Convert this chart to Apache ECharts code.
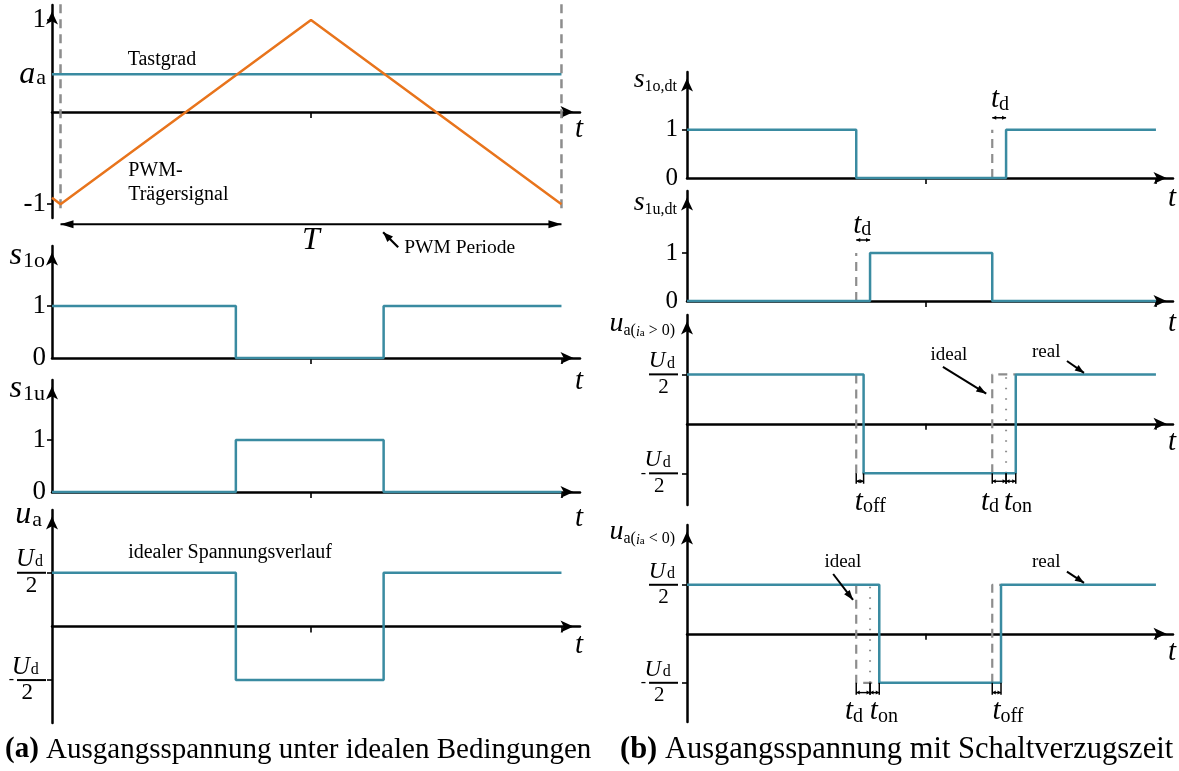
<!DOCTYPE html>
<html><head><meta charset="utf-8">
<script src="https://cdn.jsdelivr.net/npm/echarts@6/dist/echarts.min.js"></script>
<style>html,body{margin:0;padding:0;background:#fff}#c{width:1179px;height:771px}</style>
</head><body><div id="c"></div>
<script>
// ================= DATA =================
const T_START = -0.017, T_END = 1.037;          // time axis range (unit: PWM period T)
const periodTicks = [0.5, 1];
// (a) ideal conditions
const carrierT = [-0.017, 0, 0.5, 1];
const carrierV = [-0.93, -1, 1, -1];
const dutyT = [-0.017, 1];
const dutyV = [0.41, 0.41];
const periodLine1T = [0, 0], periodLine2T = [1, 1];
const periodLineV = [1.17, -1.1];
const idealT = [-0.017, 0.35, 0.35, 0.645, 0.645, 1];
const s1oV = [1, 1, 0, 0, 1, 1];
const s1uV = [0, 0, 1, 1, 0, 0];
const uaV  = [1, 1, -1, -1, 1, 1];
// (b) with dead time
const s1oDtT = [-0.017, 0.35, 0.35, 0.675, 0.675, 1];
const s1oDtV = [1, 1, 0, 0, 1, 1];
const s1oDtIdealT = [0.645, 0.645], s1DtIdealV = [0, 1];
const s1uDtT = [-0.017, 0.38, 0.38, 0.645, 0.645, 1];
const s1uDtV = [0, 0, 1, 1, 0, 0];
const s1uDtIdealT = [0.35, 0.35];
const uPosRealT = [-0.017, 0.366, 0.366, 0.696, 0.696, 1];
const uNegRealT = [-0.017, 0.40, 0.40, 0.664, 0.664, 1];
const uRealV = [1, 1, -1, -1, 1, 1];
const uPosIdealT = [0.35, 0.35, 0.366, null, 0.645, 0.645, 0.696];
const uPosIdealV = [1, -1, -1, null, -1, 1, 1];
const uNegIdealT = [0.35, 0.35, 0.40, null, 0.645, 0.645, 0.664];
const uNegIdealV = [1, -1, -1, null, -1, 1, 1];
const uPosTdT = [0.675, 0.675], uNegTdT = [0.38, 0.38], uTdV = [-1, 1];
// delay brackets [from, to]
const uPosDelays = [[0.35, 0.366], [0.645, 0.675], [0.675, 0.696]];
const uNegDelays = [[0.35, 0.38], [0.38, 0.40], [0.645, 0.664]];

// ================= STYLE / LAYOUT =================
const SERIF = '"Liberation Serif", "Times New Roman", serif';
const BLUE = '#3a8ba1', ORANGE = '#e8741c', GRAY = '#8d8d8d';
const panels = [
  {left:52,  top:5,   width:528, height:213, yMin:-1.15, yMax:1.163, kind:'carrier', fs:27, margin:6},
  {left:52,  top:246, width:528, height:112, yMin:0,     yMax:2.15,  kind:'bin',     fs:27, margin:6},
  {left:52,  top:380, width:528, height:112, yMin:0,     yMax:2.15,  kind:'bin',     fs:27, margin:6},
  {left:52,  top:510, width:528, height:213, yMin:-1.8,  yMax:2.17,  kind:'frac',    fs:27, margin:6},
  {left:687, top:72,  width:486, height:106, yMin:0,     yMax:2.2,   kind:'bin',     fs:25, margin:9},
  {left:687, top:191, width:486, height:110, yMin:0,     yMax:2.29,  kind:'bin',     fs:25, margin:9},
  {left:687, top:315, width:486, height:190, yMin:-1.64, yMax:2.2,   kind:'frac',    fs:25, margin:9},
  {left:687, top:525, width:486, height:197, yMin:-1.8,  yMax:2.22,  kind:'frac',    fs:25, margin:9}
];

const zip = (T, V) => T.map((t, i) => [t, V[i]]);
function line(g, T, V, color, width, type, z) {
  return {type:'line', xAxisIndex:g, yAxisIndex:g, data:zip(T, V), symbol:'none',
    lineStyle:{color, width, type: type || 'solid', cap:'butt'}, silent:true, z: z || 3,
    animation:false, clip:false, connectNulls:false};
}
const DASH = [9, 6], DOT = [1.5, 9];

const series = [
  line(0, periodLine1T, periodLineV, GRAY, 2.5, DASH, 2),
  line(0, periodLine2T, periodLineV, GRAY, 2.5, DASH, 2),
  line(0, dutyT, dutyV, BLUE, 2.5),
  line(0, carrierT, carrierV, ORANGE, 2.5, 'solid', 4),
  line(1, idealT, s1oV, BLUE, 2.5),
  line(2, idealT, s1uV, BLUE, 2.5),
  line(3, idealT, uaV, BLUE, 2.5),
  line(4, s1oDtIdealT, s1DtIdealV, GRAY, 2.2, DASH, 2),
  line(4, s1oDtT, s1oDtV, BLUE, 2.5),
  line(5, s1uDtIdealT, s1DtIdealV, GRAY, 2.2, DASH, 2),
  line(5, s1uDtT, s1uDtV, BLUE, 2.5),
  line(6, uPosIdealT, uPosIdealV, GRAY, 2.2, DASH, 2),
  line(6, uPosTdT, uTdV, GRAY, 2, DOT, 2),
  line(6, uPosRealT, uRealV, BLUE, 2.5),
  line(7, uNegIdealT, uNegIdealV, GRAY, 2.2, DASH, 2),
  line(7, uNegTdT, uTdV, GRAY, 2, DOT, 2),
  line(7, uNegRealT, uRealV, BLUE, 2.5)
];

const fracRich = (fs) => ({
  u:   {fontFamily:SERIF, fontSize:fs - 2, fontStyle:'italic', color:'#000', width:15, lineHeight:21, align:'right'},
  d:   {fontFamily:SERIF, fontSize:16, color:'#000', width:13, lineHeight:15, verticalAlign:'bottom', align:'left'},
  bar: {width:29, height:2, backgroundColor:'#000', lineHeight:5},
  m:   {fontFamily:SERIF, fontSize:16, color:'#000', lineHeight:5, padding:[0,3,0,0]},
  two: {fontFamily:SERIF, fontSize:fs - 4, color:'#000', width:29, align:'center', lineHeight:21},
  ai:  {fontFamily:SERIF, fontSize:32, fontStyle:'italic', color:'#000', lineHeight:30},
  as:  {fontFamily:SERIF, fontSize:22, color:'#000', lineHeight:10, verticalAlign:'bottom', padding:[0,0,0,1]}
});

function yLabelCfg(p) {
  if (p.kind === 'carrier') return {vals:[-1, 0.41, 1], ticks:[-1, 1],
    fmt: v => Math.abs(v - 1) < 1e-6 ? '1' : Math.abs(v + 1) < 1e-6 ? '-1' : '{ai|a}{as|a}'};
  if (p.kind === 'bin') return {vals:[0, 1], ticks:[1], fmt: v => String(v)};
  return {vals:[-1, 1], ticks:[-1, 1],
    fmt: v => v > 0 ? '{u|U}{d|d}\n{bar|}\n{two|2}' : '{u|U}{d|d}\n{m|-}{bar|}\n{two|2}'};
}

const AXIS_LINE = {color:'#000', width:2.5};
const ARROW = {symbol:['none','arrow'], symbolSize:[9,13], symbolOffset:[0,-6.5]};
const option = {
  backgroundColor:'#fff',
  animation:false,
  grid: panels.map(p => ({left:p.left, top:p.top, width:p.width, height:p.height, containLabel:false})),
  xAxis: panels.map((p, i) => ({
    type:'value', gridIndex:i, min:T_START, max:T_END,
    axisLine:Object.assign({show:true, onZero:true, lineStyle:AXIS_LINE}, ARROW),
    axisTick:{show:true, customValues:periodTicks, length:6, inside:false, lineStyle:{color:'#000', width:1.6}},
    axisLabel:{show:false}, splitLine:{show:false}
  })),
  yAxis: panels.map((p, i) => {
    const c = yLabelCfg(p);
    return {
      type:'value', gridIndex:i, min:p.yMin, max:p.yMax,
      axisLine:Object.assign({show:true, onZero:false, lineStyle:AXIS_LINE}, ARROW),
      axisTick:{show:true, customValues:c.ticks, length:5, lineStyle:{color:'#000', width:1.6}},
      axisLabel:{show:true, customValues:c.vals, margin:p.margin, formatter:c.fmt,
        fontFamily:SERIF, fontSize:p.fs, color:'#000', rich:fracRich(p.fs)},
      splitLine:{show:false}
    };
  }),
  series
};

const chart = echarts.init(document.getElementById('c'));
chart.setOption(option);

// ================= ANNOTATIONS =================
const P = (g, t, v) => chart.convertToPixel({gridIndex:g}, [t, v]);
const MATH = {
  i:  {fontFamily:SERIF, fontSize:29, fontStyle:'italic', fill:'#000', lineHeight:30},
  s:  {fontFamily:SERIF, fontSize:20, fill:'#000', lineHeight:13, verticalAlign:'bottom'},
  I:  {fontFamily:SERIF, fontSize:32, fontStyle:'italic', fill:'#000', lineHeight:32},
  S:  {fontFamily:SERIF, fontSize:22, fill:'#000', lineHeight:14, verticalAlign:'bottom', padding:[0,0,0,1]},
  ri: {fontFamily:SERIF, fontSize:28, fontStyle:'italic', fill:'#000', lineHeight:30},
  rs: {fontFamily:SERIF, fontSize:16, fill:'#000', lineHeight:11, verticalAlign:'bottom'},
  rsi:{fontFamily:SERIF, fontSize:14, fontStyle:'italic', fill:'#000', lineHeight:11, verticalAlign:'bottom'},
  rss:{fontFamily:SERIF, fontSize:11, fill:'#000', lineHeight:5, verticalAlign:'bottom'},
  b:  {fontFamily:SERIF, fontSize:29, fontWeight:'bold', fill:'#000'},
  r:  {fontFamily:SERIF, fontSize:29, fill:'#000'},
  b2: {fontFamily:SERIF, fontSize:30.5, fontWeight:'bold', fill:'#000'},
  r2: {fontFamily:SERIF, fontSize:30.5, fill:'#000'}
};
const g = [];
function text(x, y, str, opt) {
  opt = opt || {};
  g.push({type:'text', x, y, silent:true, z:100, style:Object.assign({
    text:str, fill:'#000', font:(opt.italic ? 'italic ' : '') + (opt.size || 17) + 'px ' + SERIF,
    align:opt.align || 'left', verticalAlign:'middle', rich:MATH}, opt.style || {})});
}
function seg(a, b, w, dash) {
  g.push({type:'line', silent:true, z:100, shape:{x1:a[0], y1:a[1], x2:b[0], y2:b[1]},
    style:{stroke:'#000', lineWidth:w || 1.5, lineDash:dash || null}});
}
function head(from, tip, len, wid) {
  const a = Math.atan2(tip[1] - from[1], tip[0] - from[0]);
  const bx = tip[0] - len * Math.cos(a), by = tip[1] - len * Math.sin(a);
  const nx = -Math.sin(a) * wid / 2, ny = Math.cos(a) * wid / 2;
  g.push({type:'polygon', silent:true, z:101, shape:{points:[[tip[0], tip[1]], [bx + nx, by + ny], [bx - nx, by - ny]]}, style:{fill:'#000'}});
}
function arrow(a, b, w, len, wid, both) {
  seg(a, b, w);
  head(a, b, len, wid);
  if (both) head(b, a, len, wid);
}

// axis names (y) and "t" labels (x)
const yNames = [
  null,
  '{I|s}{S|1o}', '{I|s}{S|1u}', '{I|u}{S|a}',
  '{ri|s}{rs|1o,dt}', '{ri|s}{rs|1u,dt}',
  '{ri|u}{rs|a(}{rsi|i}{rss|a}{rs| > 0)}', '{ri|u}{rs|a(}{rsi|i}{rss|a}{rs| < 0)}'
];
const yNameDy = [0, 10, 9, 5, 8, 12, 9, 7];
const yNameDx = [0, 7, 7, 10, 10, 10, 12, 12];
const tDy = [17, 23, 26, 19, 20, 22, 19, 19];
panels.forEach((p, i) => {
  const top = P(i, T_START, p.yMax);
  if (yNames[i]) text(top[0] - yNameDx[i], top[1] + yNameDy[i], yNames[i], {align:'right', size:28});
  const end = P(i, T_END, 0);
  text(end[0] - 1, end[1] + tDy[i], '{i|t}', {align:'center', size:28});
});

// (a) panel 1
text(...P(0, 0.2025, 0.565), 'Tastgrad', {align:'center', size:20});
text(...P(0, 0.135, -0.64), 'PWM-', {size:20});
text(...P(0, 0.135, -0.90), 'Trägersignal', {size:20});
arrow(P(0, 0, -1.217), P(0, 1, -1.217), 2, 13, 8, true);
text(...P(0, 0.5, -1.39), '{I|T}', {align:'center', size:28});
arrow(P(0, 0.674, -1.467), P(0, 0.644, -1.304), 2.2, 10, 8);
text(...P(0, 0.686, -1.47), 'PWM Periode', {size:19.5});
// (a) panel 4
text(...P(3, 0.135, 1.38), 'idealer Spannungsverlauf', {size:20});

// (b) dead time arrows
arrow(P(4, 0.645, 1.25), P(4, 0.675, 1.25), 1.5, 4, 4, true);
text(...P(4, 0.662, 1.63), '{i|t}{s|d}', {align:'center'});
arrow(P(5, 0.35, 1.27), P(5, 0.38, 1.27), 1.5, 4, 4, true);
text(...P(5, 0.363, 1.58), '{i|t}{s|d}', {align:'center'});

// (b) ideal / real
text(...P(6, 0.551, 1.39), 'ideal', {align:'center', size:19});
arrow(P(6, 0.538, 1.15), P(6, 0.632, 0.61), 2, 10, 7);
text(...P(6, 0.762, 1.45), 'real', {align:'center', size:19});
arrow(P(6, 0.807, 1.27), P(6, 0.844, 1.03), 2, 9, 7);
text(...P(7, 0.321, 1.47), 'ideal', {align:'center', size:19});
arrow(P(7, 0.300, 1.22), P(7, 0.343, 0.69), 2, 10, 7);
text(...P(7, 0.762, 1.47), 'real', {align:'center', size:19});
arrow(P(7, 0.807, 1.27), P(7, 0.844, 1.04), 2, 9, 7);

// delay brackets
function brackets(gi, list, yTick, yArr) {
  list.forEach(([a, b]) => {
    seg(P(gi, a, -1), P(gi, a, yTick), 1.5);
    seg(P(gi, b, -1), P(gi, b, yTick), 1.5);
    arrow(P(gi, a, yArr), P(gi, b, yArr), 1.4, 3.5, 4, true);
  });
}
brackets(6, uPosDelays, -1.21, -1.16);
brackets(7, uNegDelays, -1.245, -1.2);
text(...P(6, 0.347, -1.58), '{i|t}{s|off}', {align:'left'});
text(...P(6, 0.640, -1.58), '{i|t}{s|d}', {align:'center'});
text(...P(6, 0.701, -1.58), '{i|t}{s|on}', {align:'center'});
text(...P(7, 0.345, -1.59), '{i|t}{s|d}', {align:'center'});
text(...P(7, 0.410, -1.59), '{i|t}{s|on}', {align:'center'});
text(...P(7, 0.679, -1.59), '{i|t}{s|off}', {align:'center'});

// captions
text(5, 750, '{b|(a)}{r| Ausgangsspannung unter idealen Bedingungen}', {size:29});
text(620, 750, '{b2|(b)}{r2| Ausgangsspannung mit Schaltverzugszeit}', {size:30});

chart.setOption({graphic:{elements:g}});
</script>
</body></html>
